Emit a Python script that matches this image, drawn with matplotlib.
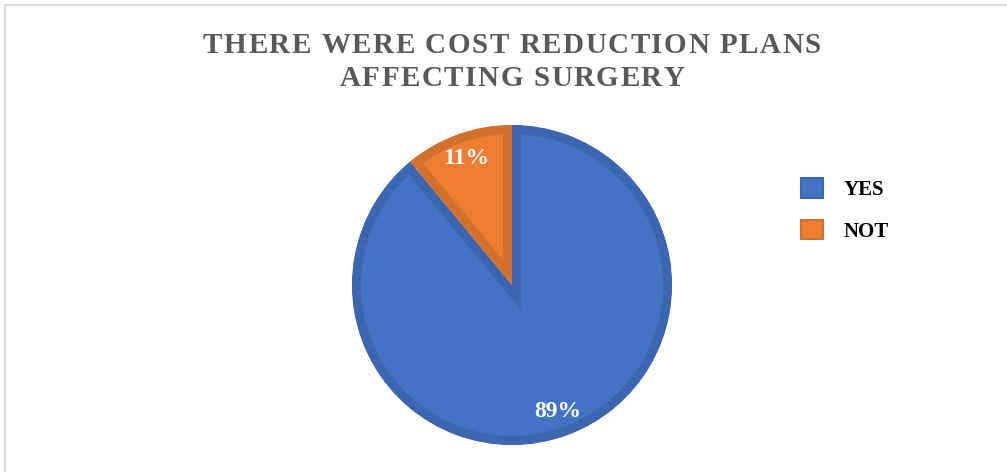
import matplotlib.pyplot as plt
from matplotlib import font_manager
from matplotlib.font_manager import FontProperties
from matplotlib.ft2font import FT2Font
from matplotlib.patches import Patch, Rectangle

labels = ['YES', 'NOT']
shares = [89, 11]
fill_colors = ['#4472C4', '#ED7D31']
edge_colors = ['#3D66B0', '#D3702C']

title_lines = ['THERE WERE COST REDUCTION PLANS', 'AFFECTING SURGERY']

plt.rcParams['font.family'] = ['Liberation Serif', 'DejaVu Serif']

W, H = 1007, 472
DPI = 100
fig = plt.figure(figsize=(W / DPI, H / DPI), dpi=DPI)

# light grey chart frame (open at the right and bottom)
fig.patches.append(Rectangle((5, -20), 1100, 472 - 5 + 20, transform=None,
                             fill=False, edgecolor='#D9D9D9', linewidth=1.6))

# pie: centre (512, 285) px, radius 160 px
r_px = 160
lim = 1.05
side = 2 * lim * r_px
cx, cy = 512, H - 285
ax = fig.add_axes([(cx - side / 2) / W, (cy - side / 2) / H, side / W, side / H])

wedges, texts, autotexts = ax.pie(
    shares, colors=fill_colors, startangle=90, counterclock=False,
    autopct='%d%%', pctdistance=0.84,
    wedgeprops=dict(linewidth=13, joinstyle='miter'),
    textprops=dict(color='white', fontsize=17, fontweight='bold'))

# inner stroke: clip each wedge's outline to the wedge itself
for w, ec in zip(wedges, edge_colors):
    w.set_edgecolor(ec)
    w.set_clip_on(True)
    w.set_clip_path(w)

ax.set_xlim(-lim, lim)
ax.set_ylim(-lim, lim)
ax.set_aspect('equal')
ax.axis('off')


# title with letter spacing: place glyphs one by one
title_size = 21
tracking = 1.5  # extra px between letters
title_font = FontProperties(family='Liberation Serif', weight='bold', size=title_size)
ft = FT2Font(font_manager.findfont(title_font))
ft.set_size(title_size, DPI)


def advance(ch):
    return ft.load_char(ord(ch)).linearHoriAdvance / 65536


for line, base_y in zip(title_lines, [53, 86]):
    widths = [advance(c) for c in line]
    total = sum(widths) + tracking * (len(line) - 1)
    x = 512 - total / 2
    for c, wdt in zip(line, widths):
        fig.text(x / W, 1 - base_y / H, c, ha='left', va='baseline',
                 fontproperties=title_font, color='#595959')
        x += wdt + tracking

handles = [Patch(facecolor=f, edgecolor=e, linewidth=1.5)
           for f, e in zip(fill_colors, edge_colors)]
fig.legend(handles, labels, loc='upper left',
           bbox_to_anchor=(795 / W, 1 - 172 / H), frameon=False,
           prop=dict(family='Liberation Serif', weight='bold', size=15),
           handlelength=1.05, handleheight=1.05, handletextpad=1.0,
           labelspacing=0.95, borderaxespad=0, borderpad=0.3)

fig.savefig('out.png', dpi=DPI)
